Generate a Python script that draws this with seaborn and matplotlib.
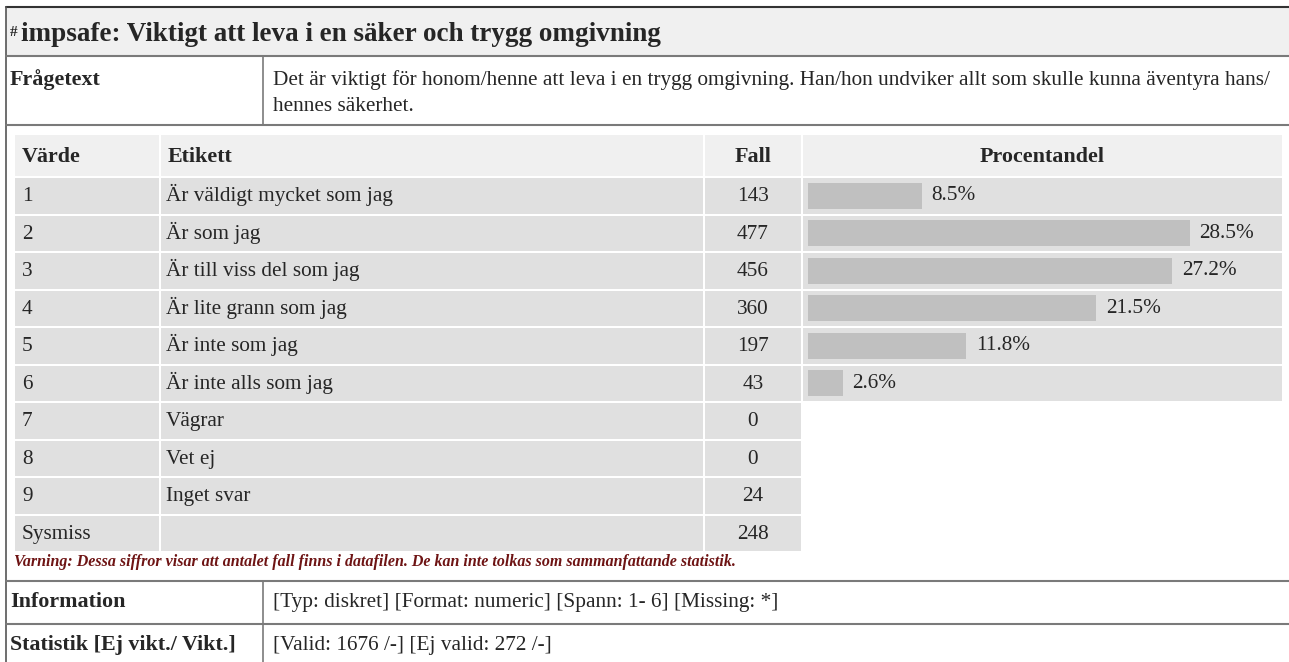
import matplotlib
matplotlib.use("Agg")
import matplotlib.pyplot as plt
from matplotlib.patches import Rectangle
import pandas as pd
import seaborn as sns

# data
values = ["1", "2", "3", "4", "5", "6", "7", "8", "9", "Sysmiss"]
labels = ["Är väldigt mycket som jag", "Är som jag", "Är till viss del som jag",
          "Är lite grann som jag", "Är inte som jag", "Är inte alls som jag",
          "Vägrar", "Vet ej", "Inget svar", ""]
counts = [143, 477, 456, 360, 197, 43, 0, 0, 24, 248]
pct_cats = ["1", "2", "3", "4", "5", "6"]
pct_vals = [8.5, 28.5, 27.2, 21.5, 11.8, 2.6]

title = "impsafe: Viktigt att leva i en säker och trygg omgivning"
question = ["Det är viktigt för honom/henne att leva i en trygg omgivning. Han/hon undviker allt som skulle kunna äventyra hans/",
            "hennes säkerhet."]
warning = "Varning: Dessa siffror visar att antalet fall finns i datafilen. De kan inte tolkas som sammanfattande statistik."
info = "[Typ: diskret] [Format: numeric] [Spann: 1- 6] [Missing: *]"
stats = "[Valid: 1676 /-] [Ej valid: 272 /-]"

sns.set_theme(style="white")
plt.rcParams["font.family"] = ["Liberation Serif", "DejaVu Serif"]

W, H = 1289, 662
fig = plt.figure(figsize=(W / 100, H / 100), dpi=100)
ax = fig.add_axes([0, 0, 1, 1])
ax.set_xlim(0, W)
ax.set_ylim(H, 0)
ax.axis("off")

line_c = "#7a7a7a"
hdr_bg = "#f0f0f0"
row_bg = "#e0e0e0"
fs = 15.3
fsb = 15.8
base = dict(va="baseline")

# outer frame, title band
ax.add_patch(Rectangle((6, 7), W, 49, facecolor=hdr_bg, edgecolor="none"))
ax.plot([6, W], [7, 7], color="#333333", lw=1.5)
ax.plot([6, 6], [7, H], color="#555555", lw=1.2)
for y in [56, 125, 581, 624]:
    ax.plot([6, W], [y, y], color=line_c, lw=1.5)
ax.plot([263, 263], [56, 125], color=line_c, lw=1.2)
ax.plot([263, 263], [581, H], color=line_c, lw=1.2)

ax.text(10, 36, "#", fontsize=11, fontweight="bold", **base)
ax.text(21, 41, title, fontsize=19.5, fontweight="bold", **base)

ax.text(10, 85, "Frågetext", fontsize=fsb, fontweight="bold", **base)
ax.text(273, 85, question[0], fontsize=fs, **base)
ax.text(273, 111, question[1], fontsize=fs, **base)

# frequency table
cols = [(15, 159), (161, 703), (705, 801), (803, 1282)]
head = ["Värde", "Etikett", "Fall", "Procentandel"]
ht, hh = 135, 41
for (x0, x1), name in zip(cols, head):
    ax.add_patch(Rectangle((x0, ht), x1 - x0, hh, facecolor=hdr_bg, edgecolor="none"))
hb = ht + hh / 2 + 6
for i, name in enumerate(head[:2]):
    ax.text(cols[i][0] + 7, hb, name, fontsize=fsb, fontweight="bold", **base)
for i, name in enumerate(head[2:], start=2):
    ax.text((cols[i][0] + cols[i][1]) / 2, hb, name, fontsize=fsb,
            fontweight="bold", ha="center", **base)

r0, pitch, rh = 178, 37.5, 35.5
for k, (v, lab, n) in enumerate(zip(values, labels, counts)):
    top = r0 + k * pitch
    ncols = 4 if k < len(pct_vals) else 3
    for x0, x1 in cols[:ncols]:
        ax.add_patch(Rectangle((x0, top), x1 - x0, rh, facecolor=row_bg, edgecolor="none"))
    by = top + rh / 2 + 5.5
    ax.text(cols[0][0] + 7, by, v, fontsize=fs, **base)
    ax.text(cols[1][0] + 5, by, lab, fontsize=fs, **base)
    ax.text((cols[2][0] + cols[2][1]) / 2, by, str(n), fontsize=fs, ha="center", **base)

ax.text(14, 566, warning, fontsize=11.5, fontweight="bold", fontstyle="italic",
        color="#6e1414", **base)

ax.text(10, 607, "Information", fontsize=fsb, fontweight="bold", **base)
ax.text(273, 607, info, fontsize=fs, **base)
ax.text(10, 650, "Statistik [Ej vikt./ Vikt.]", fontsize=fsb, fontweight="bold", **base)
ax.text(273, 650, stats, fontsize=fs, **base)

# bars in the Procentandel column
bx0, bx1 = 808, 1282
by0 = r0 - 1
by1 = r0 + len(pct_vals) * pitch - 1
bax = fig.add_axes([bx0 / W, 1 - by1 / H, (bx1 - bx0) / W, (by1 - by0) / H])
bax.patch.set_alpha(0)
df = pd.DataFrame({"cat": pct_cats, "pct": pct_vals})
sns.barplot(data=df, x="pct", y="cat", orient="h", color="#c0c0c0",
            saturation=1, width=0.7, linewidth=0, edgecolor="none", ax=bax)
bax.set_xlim(0, (bx1 - bx0) / 13.4)
bax.set_ylim(len(pct_vals) - 0.5, -0.5)
bax.bar_label(bax.containers[0], labels=[f"{v}%" for v in pct_vals],
              padding=7, fontsize=fs, family=["Liberation Serif"])
bax.axis("off")

fig.savefig("out.png", dpi=100)
